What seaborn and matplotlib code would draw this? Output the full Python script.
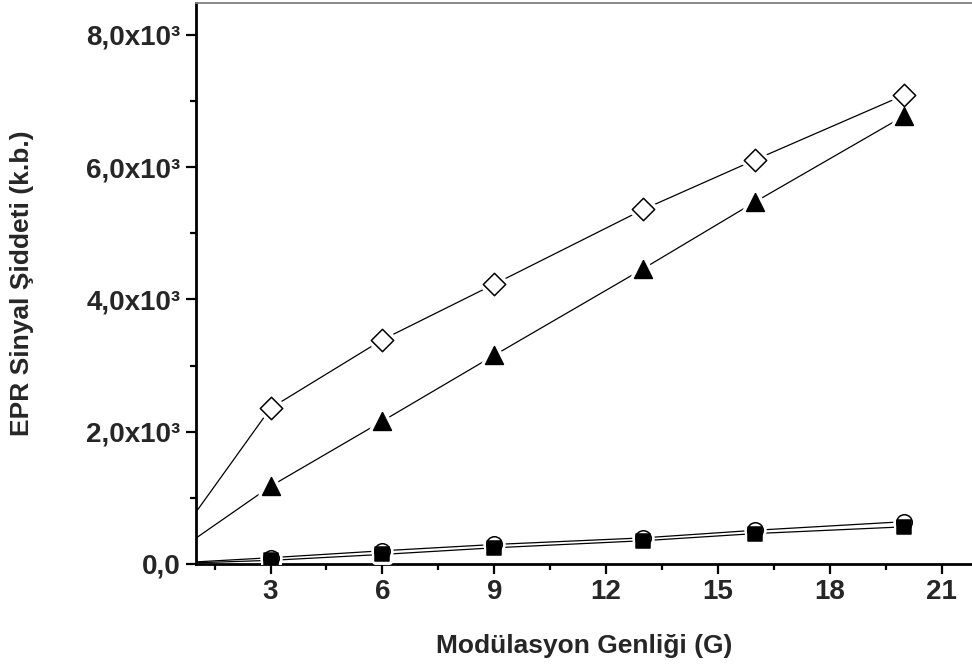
import numpy as np
import pandas as pd
import seaborn as sns
import matplotlib.pyplot as plt
from matplotlib.ticker import FixedLocator, MultipleLocator, FuncFormatter

# Data (all series start at the origin)
modulasyon = [0, 3, 6, 9, 13, 16, 20]
seri_elmas = [0, 2355, 3390, 4230, 5360, 6110, 7090]
seri_ucgen = [0, 1175, 2160, 3155, 4465, 5475, 6775]
seri_daire = [0, 95, 200, 295, 395, 510, 640]
seri_kare = [0, 55, 145, 245, 352, 460, 562]

series = {"elmas": seri_elmas, "ucgen": seri_ucgen,
          "daire": seri_daire, "kare": seri_kare}
df = pd.concat([pd.DataFrame({"x": modulasyon, "y": v, "seri": k})
                for k, v in series.items()], ignore_index=True)

sns.set_theme(style="white")
plt.rcParams['font.family'] = ['Liberation Sans', 'DejaVu Sans']
plt.rcParams['font.weight'] = 'bold'

fig = plt.figure(figsize=(9.72, 6.71), dpi=100)
ax = fig.add_axes([196 / 972, 107 / 671, 776 / 972, 561 / 671])

# connecting lines
sns.lineplot(data=df, x="x", y="y", hue="seri", palette=["black"] * 4,
             lw=0.9, legend=False, ax=ax, zorder=2, sort=False)

# marker styles: (marker, size, face, halo width)
styles = {"elmas": ("D", 130, "white", 6),
          "ucgen": ("^", 165, "black", 6),
          "daire": ("o", 125, "white", 5),
          "kare": ("s", 100, "black", 5)}

# white halos first, so lines stop short of every symbol
for name, (m, s, face, halo) in styles.items():
    sub = df[df["seri"] == name]
    sns.scatterplot(data=sub, x="x", y="y", marker=m, s=s, color="white",
                    edgecolor="white", linewidth=halo, ax=ax, zorder=3,
                    legend=False)
# then the symbols themselves
z = 4
for name, (m, s, face, halo) in styles.items():
    sub = df[df["seri"] == name]
    sns.scatterplot(data=sub, x="x", y="y", marker=m, s=s, color=face,
                    edgecolor="black", linewidth=1.1, ax=ax, zorder=z,
                    legend=False)
    z += 1

ax.set_xlim(1, 1 + 776 / 37.28)
ax.set_ylim(0, 8480)

ax.xaxis.set_major_locator(FixedLocator([3, 6, 9, 12, 15, 18, 21]))
ax.xaxis.set_minor_locator(MultipleLocator(1.5))
ax.yaxis.set_major_locator(MultipleLocator(2000))
ax.yaxis.set_minor_locator(MultipleLocator(1000))


def fmt_y(v, pos):
    if v == 0:
        return "0,0"
    return f"{v / 1000:.1f}".replace(".", ",") + "x10³"


ax.yaxis.set_major_formatter(FuncFormatter(fmt_y))

ax.tick_params(which="major", direction="out", length=7, width=1.6,
               labelsize=20, color="black", pad=4)
ax.tick_params(which="minor", direction="out", length=4, width=1.6,
               color="black")
ax.tick_params(axis="both", which="both", bottom=True, left=True,
               top=False, right=False)
for lab in ax.get_xticklabels() + ax.get_yticklabels():
    lab.set_fontweight("bold")

for side in ["left", "bottom"]:
    ax.spines[side].set_linewidth(2.0)
    ax.spines[side].set_color("black")
ax.spines["top"].set_linewidth(1.3)
ax.spines["top"].set_color("#808080")
ax.spines["right"].set_visible(False)

ax.set_xlabel("")
ax.set_ylabel("")
fig.text(584 / 972, 1 - 646 / 671, "Modülasyon Genliği (G)",
         ha="center", va="center", fontsize=19, fontweight="bold")
fig.text(22 / 972, 1 - 283 / 671, "EPR Sinyal Şiddeti (k.b.)",
         ha="center", va="center", rotation=90, fontsize=19,
         fontweight="bold")

fig.savefig("out.png", dpi=100, facecolor="white")
